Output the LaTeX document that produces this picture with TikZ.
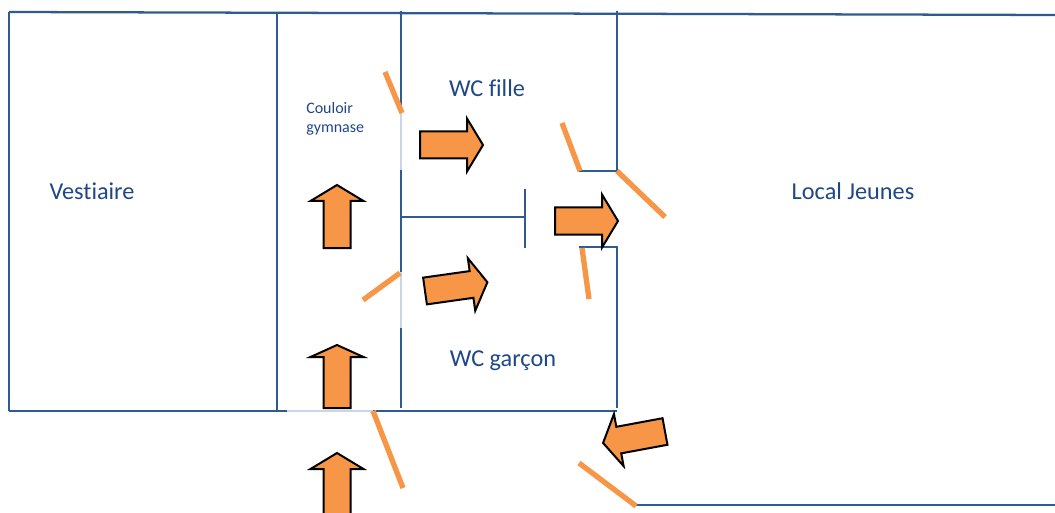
\documentclass[tikz,border=0pt]{standalone}
\usepackage{fontspec}
\setmainfont[Ligatures=NoCommon]{Carlito}
\usepackage{tikz}

\definecolor{wallblue}{HTML}{2F5B93}
\definecolor{textblue}{HTML}{1F4788}
\definecolor{doororange}{HTML}{F79646}
\definecolor{gaplight}{HTML}{C9D6E8}

\tikzset{
	wall/.style={draw=wallblue, line width=1.7pt},
	thinwall/.style={draw=wallblue, line width=1.4pt},
	gapwall/.style={draw=gaplight, line width=1.2pt},
	door/.style={draw=doororange, line width=4pt},
	room/.style={text=textblue, font=\fontsize{18.2}{22}\selectfont},
	smallroom/.style={text=textblue, font=\fontsize{12}{14.5}\selectfont, align=left, anchor=west},
	pics/way/.style={code={
		\draw[fill=doororange, draw=black, line width=1.5pt, line join=miter]
			(0,-13.5) -- (63-#1,-13.5) -- (63-#1,-26.5) -- (63,0) -- (63-#1,26.5) -- (63-#1,13.5) -- (0,13.5) -- cycle;
	}},
	pics/way/.default=16
}

\begin{document}
\begin{tikzpicture}[x=0.75pt,y=-0.75pt]
	\useasboundingbox (0,0) rectangle (1055,513);
	\clip (0,0) rectangle (1055,513);

	% outer walls
	\draw[wall] (9,12) -- (1055,15);
	\draw[wall] (9,12) -- (9,411);
	\draw[wall] (9,411) -- (287,411);
	\draw[gapwall] (287,411) -- (373,411);
	\draw[wall] (373,411) -- (617,411);
	\draw[thinwall] (635,505) -- (1055,505);

	% inner walls
	\draw[wall] (277,14) -- (277,411);
	\draw[wall] (401,11) -- (401,113);
	\draw[gapwall] (401,113) -- (401,170);
	\draw[wall] (401,170) -- (401,272);
	\draw[gapwall] (401,272) -- (401,328);
	\draw[wall] (401,328) -- (401,408);
	\draw[thinwall] (401,217) -- (525,217);
	\draw[thinwall] (525,189) -- (525,248);
	\draw[thinwall] (617,11) -- (617,171) -- (579,171);
	\draw[thinwall] (579,247) -- (617,247) -- (617,408);

	% doors
	\draw[door] (385,72) -- (402,113);
	\draw[door] (562,123) -- (580,171);
	\draw[door] (617,171) -- (665,217);
	\draw[door] (582,248) -- (589,299);
	\draw[door] (363,300) -- (400,273);
	\draw[door] (373,411) -- (403,488);
	\draw[door] (579,463) -- (636,506);

	% arrows
	\pic[rotate=90] at (337,248) {way};
	\pic[rotate=90] at (337,408) {way=12};
	\pic[rotate=90] at (337,516) {way};
	\pic at (420,145) {way};
	\pic at (555,221) {way};
	\pic[rotate=8] at (425,291) {way};
	\pic[rotate=190.5] at (665,431.5) {way};

	\node[room] (vestiaire) at (92,191.5){Vestiaire};
	\node[room] (wcfille) at (487,88){WC fille};
	\node[room] (wcgarcon) at (503,361){WC garçon};
	\node[room] (localjeunes) at (853,191.5){Local Jeunes};
	\node[smallroom, inner sep=0pt] (couloir) at (306,119){Couloir\\gymnase};
\end{tikzpicture}
\end{document}
